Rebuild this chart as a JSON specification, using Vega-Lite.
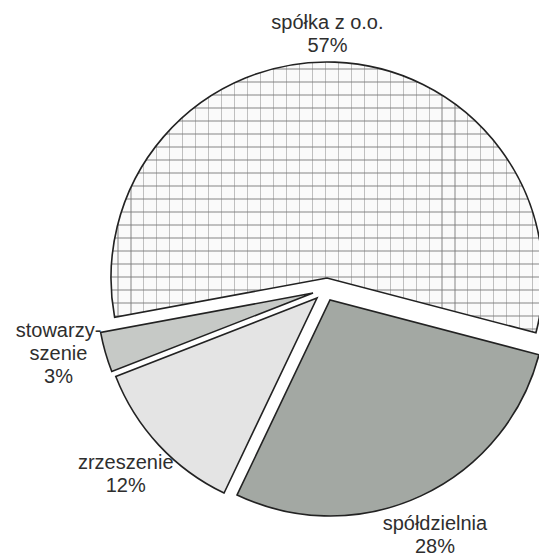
{
  "$schema": "https://vega.github.io/schema/vega-lite/v6.json",
  "autosize": "none",
  "width": 434,
  "height": 534,
  "padding": {"left": 105, "top": 25, "right": 0, "bottom": 0},
  "background": "white",
  "data": {
    "values": [
      {"cat": "spółka z o.o.", "value": 57, "ord": 1, "label": "spółka z o.o.\n57%"},
      {"cat": "spółdzielnia", "value": 28, "ord": 2, "label": "spółdzielnia\n28%"},
      {"cat": "zrzeszenie", "value": 12, "ord": 3, "label": "zrzeszenie\n12%"},
      {"cat": "stowarzyszenie", "value": 3, "ord": 4, "label": "stowarzy-\nszenie\n3%"}
    ]
  },
  "layer": [
    {
      "transform": [
        {"stack": "value", "groupby": [], "as": ["v0", "v1"], "sort": [{"field": "ord", "order": "ascending"}]},
        {"filter": "datum.ord == 1"}
      ],
      "encoding": {
        "theta": {"field": "v0", "type": "quantitative", "stack": null, "scale": {"domain": [0, 100], "range": [4.529, 10.812]}},
        "theta2": {"field": "v1"}
      },
      "layer": [
        {"mark": {"type": "arc", "outerRadius": 216, "xOffset": 5, "yOffset": -14, "fill": "#fafafa", "strokeWidth": 0}},
        {"mark": {"type": "arc", "outerRadius": 216, "xOffset": 5, "yOffset": -14, "strokeWidth": 0,
          "fill": {"gradient": "linear", "x1": 0, "y1": 0, "x2": 1, "y2": 0, "stops": [
            {"offset": 0, "color": "rgba(255,255,255,0)"},
            {"offset": 0.015, "color": "rgba(255,255,255,0)"}, {"offset": 0.015, "color": "rgba(120,120,120,0.45)"}, {"offset": 0.0175, "color": "rgba(120,120,120,0.45)"}, {"offset": 0.0175, "color": "rgba(255,255,255,0)"},
            {"offset": 0.045, "color": "rgba(255,255,255,0)"}, {"offset": 0.045, "color": "rgba(120,120,120,0.45)"}, {"offset": 0.0475, "color": "rgba(120,120,120,0.45)"}, {"offset": 0.0475, "color": "rgba(255,255,255,0)"},
            {"offset": 0.075, "color": "rgba(255,255,255,0)"}, {"offset": 0.075, "color": "rgba(120,120,120,0.45)"}, {"offset": 0.0775, "color": "rgba(120,120,120,0.45)"}, {"offset": 0.0775, "color": "rgba(255,255,255,0)"},
            {"offset": 0.105, "color": "rgba(255,255,255,0)"}, {"offset": 0.105, "color": "rgba(120,120,120,0.45)"}, {"offset": 0.1075, "color": "rgba(120,120,120,0.45)"}, {"offset": 0.1075, "color": "rgba(255,255,255,0)"},
            {"offset": 0.135, "color": "rgba(255,255,255,0)"}, {"offset": 0.135, "color": "rgba(120,120,120,0.45)"}, {"offset": 0.1375, "color": "rgba(120,120,120,0.45)"}, {"offset": 0.1375, "color": "rgba(255,255,255,0)"},
            {"offset": 0.165, "color": "rgba(255,255,255,0)"}, {"offset": 0.165, "color": "rgba(120,120,120,0.45)"}, {"offset": 0.1675, "color": "rgba(120,120,120,0.45)"}, {"offset": 0.1675, "color": "rgba(255,255,255,0)"},
            {"offset": 0.195, "color": "rgba(255,255,255,0)"}, {"offset": 0.195, "color": "rgba(120,120,120,0.45)"}, {"offset": 0.1975, "color": "rgba(120,120,120,0.45)"}, {"offset": 0.1975, "color": "rgba(255,255,255,0)"},
            {"offset": 0.225, "color": "rgba(255,255,255,0)"}, {"offset": 0.225, "color": "rgba(120,120,120,0.45)"}, {"offset": 0.2275, "color": "rgba(120,120,120,0.45)"}, {"offset": 0.2275, "color": "rgba(255,255,255,0)"},
            {"offset": 0.255, "color": "rgba(255,255,255,0)"}, {"offset": 0.255, "color": "rgba(120,120,120,0.45)"}, {"offset": 0.2575, "color": "rgba(120,120,120,0.45)"}, {"offset": 0.2575, "color": "rgba(255,255,255,0)"},
            {"offset": 0.285, "color": "rgba(255,255,255,0)"}, {"offset": 0.285, "color": "rgba(120,120,120,0.45)"}, {"offset": 0.2875, "color": "rgba(120,120,120,0.45)"}, {"offset": 0.2875, "color": "rgba(255,255,255,0)"},
            {"offset": 0.315, "color": "rgba(255,255,255,0)"}, {"offset": 0.315, "color": "rgba(120,120,120,0.45)"}, {"offset": 0.3175, "color": "rgba(120,120,120,0.45)"}, {"offset": 0.3175, "color": "rgba(255,255,255,0)"},
            {"offset": 0.345, "color": "rgba(255,255,255,0)"}, {"offset": 0.345, "color": "rgba(120,120,120,0.45)"}, {"offset": 0.3475, "color": "rgba(120,120,120,0.45)"}, {"offset": 0.3475, "color": "rgba(255,255,255,0)"},
            {"offset": 0.375, "color": "rgba(255,255,255,0)"}, {"offset": 0.375, "color": "rgba(120,120,120,0.45)"}, {"offset": 0.3775, "color": "rgba(120,120,120,0.45)"}, {"offset": 0.3775, "color": "rgba(255,255,255,0)"},
            {"offset": 0.405, "color": "rgba(255,255,255,0)"}, {"offset": 0.405, "color": "rgba(120,120,120,0.45)"}, {"offset": 0.4075, "color": "rgba(120,120,120,0.45)"}, {"offset": 0.4075, "color": "rgba(255,255,255,0)"},
            {"offset": 0.435, "color": "rgba(255,255,255,0)"}, {"offset": 0.435, "color": "rgba(120,120,120,0.45)"}, {"offset": 0.4375, "color": "rgba(120,120,120,0.45)"}, {"offset": 0.4375, "color": "rgba(255,255,255,0)"},
            {"offset": 0.465, "color": "rgba(255,255,255,0)"}, {"offset": 0.465, "color": "rgba(120,120,120,0.45)"}, {"offset": 0.4675, "color": "rgba(120,120,120,0.45)"}, {"offset": 0.4675, "color": "rgba(255,255,255,0)"},
            {"offset": 0.495, "color": "rgba(255,255,255,0)"}, {"offset": 0.495, "color": "rgba(120,120,120,0.45)"}, {"offset": 0.4975, "color": "rgba(120,120,120,0.45)"}, {"offset": 0.4975, "color": "rgba(255,255,255,0)"},
            {"offset": 0.525, "color": "rgba(255,255,255,0)"}, {"offset": 0.525, "color": "rgba(120,120,120,0.45)"}, {"offset": 0.5275, "color": "rgba(120,120,120,0.45)"}, {"offset": 0.5275, "color": "rgba(255,255,255,0)"},
            {"offset": 0.555, "color": "rgba(255,255,255,0)"}, {"offset": 0.555, "color": "rgba(120,120,120,0.45)"}, {"offset": 0.5575, "color": "rgba(120,120,120,0.45)"}, {"offset": 0.5575, "color": "rgba(255,255,255,0)"},
            {"offset": 0.585, "color": "rgba(255,255,255,0)"}, {"offset": 0.585, "color": "rgba(120,120,120,0.45)"}, {"offset": 0.5875, "color": "rgba(120,120,120,0.45)"}, {"offset": 0.5875, "color": "rgba(255,255,255,0)"},
            {"offset": 0.615, "color": "rgba(255,255,255,0)"}, {"offset": 0.615, "color": "rgba(120,120,120,0.45)"}, {"offset": 0.6175, "color": "rgba(120,120,120,0.45)"}, {"offset": 0.6175, "color": "rgba(255,255,255,0)"},
            {"offset": 0.645, "color": "rgba(255,255,255,0)"}, {"offset": 0.645, "color": "rgba(120,120,120,0.45)"}, {"offset": 0.6475, "color": "rgba(120,120,120,0.45)"}, {"offset": 0.6475, "color": "rgba(255,255,255,0)"},
            {"offset": 0.675, "color": "rgba(255,255,255,0)"}, {"offset": 0.675, "color": "rgba(120,120,120,0.45)"}, {"offset": 0.6775, "color": "rgba(120,120,120,0.45)"}, {"offset": 0.6775, "color": "rgba(255,255,255,0)"},
            {"offset": 0.705, "color": "rgba(255,255,255,0)"}, {"offset": 0.705, "color": "rgba(120,120,120,0.45)"}, {"offset": 0.7075, "color": "rgba(120,120,120,0.45)"}, {"offset": 0.7075, "color": "rgba(255,255,255,0)"},
            {"offset": 0.735, "color": "rgba(255,255,255,0)"}, {"offset": 0.735, "color": "rgba(120,120,120,0.45)"}, {"offset": 0.7375, "color": "rgba(120,120,120,0.45)"}, {"offset": 0.7375, "color": "rgba(255,255,255,0)"},
            {"offset": 0.765, "color": "rgba(255,255,255,0)"}, {"offset": 0.765, "color": "rgba(120,120,120,0.45)"}, {"offset": 0.7675, "color": "rgba(120,120,120,0.45)"}, {"offset": 0.7675, "color": "rgba(255,255,255,0)"},
            {"offset": 0.795, "color": "rgba(255,255,255,0)"}, {"offset": 0.795, "color": "rgba(120,120,120,0.45)"}, {"offset": 0.7975, "color": "rgba(120,120,120,0.45)"}, {"offset": 0.7975, "color": "rgba(255,255,255,0)"},
            {"offset": 0.825, "color": "rgba(255,255,255,0)"}, {"offset": 0.825, "color": "rgba(120,120,120,0.45)"}, {"offset": 0.8275, "color": "rgba(120,120,120,0.45)"}, {"offset": 0.8275, "color": "rgba(255,255,255,0)"},
            {"offset": 0.855, "color": "rgba(255,255,255,0)"}, {"offset": 0.855, "color": "rgba(120,120,120,0.45)"}, {"offset": 0.8575, "color": "rgba(120,120,120,0.45)"}, {"offset": 0.8575, "color": "rgba(255,255,255,0)"},
            {"offset": 0.885, "color": "rgba(255,255,255,0)"}, {"offset": 0.885, "color": "rgba(120,120,120,0.45)"}, {"offset": 0.8875, "color": "rgba(120,120,120,0.45)"}, {"offset": 0.8875, "color": "rgba(255,255,255,0)"},
            {"offset": 0.915, "color": "rgba(255,255,255,0)"}, {"offset": 0.915, "color": "rgba(120,120,120,0.45)"}, {"offset": 0.9175, "color": "rgba(120,120,120,0.45)"}, {"offset": 0.9175, "color": "rgba(255,255,255,0)"},
            {"offset": 0.945, "color": "rgba(255,255,255,0)"}, {"offset": 0.945, "color": "rgba(120,120,120,0.45)"}, {"offset": 0.9475, "color": "rgba(120,120,120,0.45)"}, {"offset": 0.9475, "color": "rgba(255,255,255,0)"},
            {"offset": 0.975, "color": "rgba(255,255,255,0)"}, {"offset": 0.975, "color": "rgba(120,120,120,0.45)"}, {"offset": 0.9775, "color": "rgba(120,120,120,0.45)"}, {"offset": 0.9775, "color": "rgba(255,255,255,0)"},
            {"offset": 1, "color": "rgba(255,255,255,0)"}
          ]}
        }},
        {"mark": {"type": "arc", "outerRadius": 216, "xOffset": 5, "yOffset": -14, "stroke": "#222222", "strokeWidth": 1.6,
          "fill": {"gradient": "linear", "x1": 0, "y1": 0, "x2": 0, "y2": 1, "stops": [
            {"offset": 0, "color": "rgba(255,255,255,0)"},
            {"offset": 0.024, "color": "rgba(255,255,255,0)"}, {"offset": 0.024, "color": "rgba(120,120,120,0.45)"}, {"offset": 0.028, "color": "rgba(120,120,120,0.45)"}, {"offset": 0.028, "color": "rgba(255,255,255,0)"},
            {"offset": 0.072, "color": "rgba(255,255,255,0)"}, {"offset": 0.072, "color": "rgba(120,120,120,0.45)"}, {"offset": 0.076, "color": "rgba(120,120,120,0.45)"}, {"offset": 0.076, "color": "rgba(255,255,255,0)"},
            {"offset": 0.12, "color": "rgba(255,255,255,0)"}, {"offset": 0.12, "color": "rgba(120,120,120,0.45)"}, {"offset": 0.124, "color": "rgba(120,120,120,0.45)"}, {"offset": 0.124, "color": "rgba(255,255,255,0)"},
            {"offset": 0.168, "color": "rgba(255,255,255,0)"}, {"offset": 0.168, "color": "rgba(120,120,120,0.45)"}, {"offset": 0.172, "color": "rgba(120,120,120,0.45)"}, {"offset": 0.172, "color": "rgba(255,255,255,0)"},
            {"offset": 0.216, "color": "rgba(255,255,255,0)"}, {"offset": 0.216, "color": "rgba(120,120,120,0.45)"}, {"offset": 0.22, "color": "rgba(120,120,120,0.45)"}, {"offset": 0.22, "color": "rgba(255,255,255,0)"},
            {"offset": 0.264, "color": "rgba(255,255,255,0)"}, {"offset": 0.264, "color": "rgba(120,120,120,0.45)"}, {"offset": 0.268, "color": "rgba(120,120,120,0.45)"}, {"offset": 0.268, "color": "rgba(255,255,255,0)"},
            {"offset": 0.312, "color": "rgba(255,255,255,0)"}, {"offset": 0.312, "color": "rgba(120,120,120,0.45)"}, {"offset": 0.316, "color": "rgba(120,120,120,0.45)"}, {"offset": 0.316, "color": "rgba(255,255,255,0)"},
            {"offset": 0.36, "color": "rgba(255,255,255,0)"}, {"offset": 0.36, "color": "rgba(120,120,120,0.45)"}, {"offset": 0.364, "color": "rgba(120,120,120,0.45)"}, {"offset": 0.364, "color": "rgba(255,255,255,0)"},
            {"offset": 0.408, "color": "rgba(255,255,255,0)"}, {"offset": 0.408, "color": "rgba(120,120,120,0.45)"}, {"offset": 0.412, "color": "rgba(120,120,120,0.45)"}, {"offset": 0.412, "color": "rgba(255,255,255,0)"},
            {"offset": 0.456, "color": "rgba(255,255,255,0)"}, {"offset": 0.456, "color": "rgba(120,120,120,0.45)"}, {"offset": 0.46, "color": "rgba(120,120,120,0.45)"}, {"offset": 0.46, "color": "rgba(255,255,255,0)"},
            {"offset": 0.504, "color": "rgba(255,255,255,0)"}, {"offset": 0.504, "color": "rgba(120,120,120,0.45)"}, {"offset": 0.508, "color": "rgba(120,120,120,0.45)"}, {"offset": 0.508, "color": "rgba(255,255,255,0)"},
            {"offset": 0.552, "color": "rgba(255,255,255,0)"}, {"offset": 0.552, "color": "rgba(120,120,120,0.45)"}, {"offset": 0.556, "color": "rgba(120,120,120,0.45)"}, {"offset": 0.556, "color": "rgba(255,255,255,0)"},
            {"offset": 0.6, "color": "rgba(255,255,255,0)"}, {"offset": 0.6, "color": "rgba(120,120,120,0.45)"}, {"offset": 0.604, "color": "rgba(120,120,120,0.45)"}, {"offset": 0.604, "color": "rgba(255,255,255,0)"},
            {"offset": 0.648, "color": "rgba(255,255,255,0)"}, {"offset": 0.648, "color": "rgba(120,120,120,0.45)"}, {"offset": 0.652, "color": "rgba(120,120,120,0.45)"}, {"offset": 0.652, "color": "rgba(255,255,255,0)"},
            {"offset": 0.696, "color": "rgba(255,255,255,0)"}, {"offset": 0.696, "color": "rgba(120,120,120,0.45)"}, {"offset": 0.7, "color": "rgba(120,120,120,0.45)"}, {"offset": 0.7, "color": "rgba(255,255,255,0)"},
            {"offset": 0.744, "color": "rgba(255,255,255,0)"}, {"offset": 0.744, "color": "rgba(120,120,120,0.45)"}, {"offset": 0.748, "color": "rgba(120,120,120,0.45)"}, {"offset": 0.748, "color": "rgba(255,255,255,0)"},
            {"offset": 0.792, "color": "rgba(255,255,255,0)"}, {"offset": 0.792, "color": "rgba(120,120,120,0.45)"}, {"offset": 0.796, "color": "rgba(120,120,120,0.45)"}, {"offset": 0.796, "color": "rgba(255,255,255,0)"},
            {"offset": 0.84, "color": "rgba(255,255,255,0)"}, {"offset": 0.84, "color": "rgba(120,120,120,0.45)"}, {"offset": 0.844, "color": "rgba(120,120,120,0.45)"}, {"offset": 0.844, "color": "rgba(255,255,255,0)"},
            {"offset": 0.888, "color": "rgba(255,255,255,0)"}, {"offset": 0.888, "color": "rgba(120,120,120,0.45)"}, {"offset": 0.892, "color": "rgba(120,120,120,0.45)"}, {"offset": 0.892, "color": "rgba(255,255,255,0)"},
            {"offset": 0.936, "color": "rgba(255,255,255,0)"}, {"offset": 0.936, "color": "rgba(120,120,120,0.45)"}, {"offset": 0.94, "color": "rgba(120,120,120,0.45)"}, {"offset": 0.94, "color": "rgba(255,255,255,0)"},
            {"offset": 0.984, "color": "rgba(255,255,255,0)"}, {"offset": 0.984, "color": "rgba(120,120,120,0.45)"}, {"offset": 0.988, "color": "rgba(120,120,120,0.45)"}, {"offset": 0.988, "color": "rgba(255,255,255,0)"},
            {"offset": 1, "color": "rgba(255,255,255,0)"}
          ]}
        }}
      ]
    },
    {
      "transform": [
        {"stack": "value", "groupby": [], "as": ["v0", "v1"], "sort": [{"field": "ord", "order": "ascending"}]},
        {"filter": "datum.ord == 2"}
      ],
      "encoding": {
        "theta": {"field": "v0", "type": "quantitative", "stack": null},
        "theta2": {"field": "v1"}
      },
      "mark": {"type": "arc", "outerRadius": 216, "xOffset": 8, "yOffset": 8, "fill": "#a3a8a3", "stroke": "#222222", "strokeWidth": 1.6}
    },
    {
      "transform": [
        {"stack": "value", "groupby": [], "as": ["v0", "v1"], "sort": [{"field": "ord", "order": "ascending"}]},
        {"filter": "datum.ord == 3"}
      ],
      "encoding": {
        "theta": {"field": "v0", "type": "quantitative", "stack": null},
        "theta2": {"field": "v1"}
      },
      "mark": {"type": "arc", "outerRadius": 216, "xOffset": -5, "yOffset": 6, "fill": "#e4e4e4", "stroke": "#222222", "strokeWidth": 1.6}
    },
    {
      "transform": [
        {"stack": "value", "groupby": [], "as": ["v0", "v1"], "sort": [{"field": "ord", "order": "ascending"}]},
        {"filter": "datum.ord == 4"}
      ],
      "encoding": {
        "theta": {"field": "v0", "type": "quantitative", "stack": null},
        "theta2": {"field": "v1"}
      },
      "mark": {"type": "arc", "outerRadius": 216, "xOffset": -9, "yOffset": 1, "fill": "#c6c9c6", "stroke": "#222222", "strokeWidth": 1.6}
    },
    {
      "encoding": {
        "theta": {"field": "value", "type": "quantitative", "stack": true},
        "order": {"field": "ord", "type": "quantitative"},
        "text": {"condition": {"test": "datum.ord == 2 || datum.ord == 3", "field": "label", "type": "nominal"}, "value": ""}
      },
      "mark": {"type": "text", "radius": 268, "dy": -11, "fontSize": 20, "font": "Liberation Sans", "fill": "#2e2e2e", "lineBreak": "\n", "lineHeight": 23, "align": "center", "baseline": "middle"}
    },
    {
      "encoding": {
        "theta": {"field": "value", "type": "quantitative", "stack": true},
        "order": {"field": "ord", "type": "quantitative"},
        "text": {"condition": {"test": "datum.ord == 1", "field": "label", "type": "nominal"}, "value": ""}
      },
      "mark": {"type": "text", "radius": 258, "dy": -11, "dx": -4, "fontSize": 20, "font": "Liberation Sans", "fill": "#2e2e2e", "lineBreak": "\n", "lineHeight": 23, "align": "center", "baseline": "middle"}
    },
    {
      "encoding": {
        "theta": {"field": "value", "type": "quantitative", "stack": true},
        "order": {"field": "ord", "type": "quantitative"},
        "text": {"condition": {"test": "datum.ord == 4", "field": "label", "type": "nominal"}, "value": ""}
      },
      "mark": {"type": "text", "radius": 274, "dy": -36, "fontSize": 20, "font": "Liberation Sans", "fill": "#2e2e2e", "lineBreak": "\n", "lineHeight": 23, "align": "center", "baseline": "middle"}
    }
  ]
}
